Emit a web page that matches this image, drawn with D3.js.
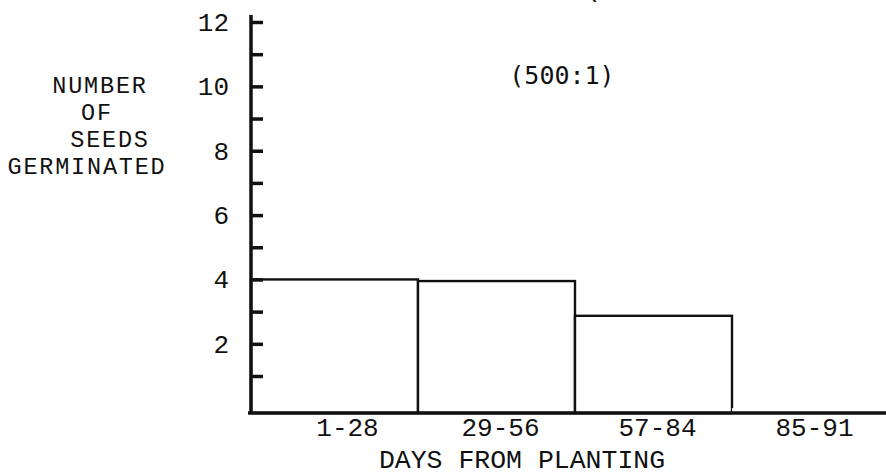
<!DOCTYPE html>
<html>
<head>
<meta charset="utf-8">
<script src="https://cdn.jsdelivr.net/npm/d3@7"></script>
<style>
  html, body { margin: 0; padding: 0; background: #fff; }
  svg { display: block; }
  text { font-family: "Liberation Mono", "DejaVu Sans Mono", monospace; fill: #111; }
</style>
</head>
<body>
<svg id="chart" width="886" height="476"></svg>
<script>
// ---- data ----
const categories = ["1-28", "29-56", "57-84", "85-91"];
const seedCounts = [4, 3.95, 2.87, 0];
const yTickValues = [1, 2, 3, 4, 5, 6, 7, 8, 9, 10, 11, 12];
const yTitleLines = ["NUMBER", "OF", "SEEDS", "GERMINATED"];
const xTitle = "DAYS FROM PLANTING";
const ratioLabel = "(500:1)";

// ---- layout ----
const svg = d3.select("#chart");
const axisX = 251;
const plotTop = 22, plotBottom = 413;

const y = d3.scaleLinear().domain([-0.15, 12]).range([plotBottom, plotTop]);
const x = d3.scaleBand().domain(categories).range([261, 889]).padding(0);

// bars
svg.append("g").selectAll("rect")
  .data(categories.map((c, i) => ({ c, v: seedCounts[i], i })))
  .join("rect")
  .attr("x", d => d.i === 0 ? axisX : x(d.c))
  .attr("width", d => d.i === 0 ? x(d.c) + x.bandwidth() - axisX : x.bandwidth())
  .attr("y", d => y(d.v))
  .attr("height", d => plotBottom - y(d.v))
  .attr("fill", "#fff")
  .attr("stroke", d => d.v > 0 ? "#111" : "none")
  .attr("stroke-width", 2.4);

// y axis (ticks point inward)
const yAxis = d3.axisLeft(y)
  .tickValues(yTickValues)
  .tickSize(-12)
  .tickSizeOuter(0)
  .tickPadding(22)
  .tickFormat(d => d % 2 === 0 ? d : "");
const gy = svg.append("g").attr("transform", `translate(${axisX},0)`).call(yAxis);
gy.select(".domain").remove();
gy.selectAll(".tick line").attr("stroke", "#111").attr("stroke-width", 3.5);
gy.selectAll(".tick text")
  .style("font-family", '"Liberation Mono", monospace')
  .style("font-size", "26px")
  .attr("fill", "#111");
svg.append("line")
  .attr("x1", axisX).attr("x2", axisX)
  .attr("y1", y(12) - 7).attr("y2", plotBottom + 1)
  .attr("stroke", "#111").attr("stroke-width", 3.5);

// x axis baseline
svg.append("line")
  .attr("x1", axisX - 3).attr("x2", 886)
  .attr("y1", plotBottom).attr("y2", plotBottom)
  .attr("stroke", "#111").attr("stroke-width", 3.5);

// x labels
svg.append("g").selectAll("text")
  .data(categories)
  .join("text")
  .attr("x", (d, i) => (i === 0 ? (axisX + x(d) + x.bandwidth()) / 2 + 13 : x(d) + x.bandwidth() / 2 + 4))
  .attr("y", 436)
  .attr("text-anchor", "middle")
  .style("font-size", "26px")
  .text(d => d);

// x title
svg.append("text")
  .attr("x", 522).attr("y", 468)
  .attr("text-anchor", "middle")
  .style("font-size", "26.5px")
  .text(xTitle);

// y title (stacked lines)
const yTitlePos = [[100, 93], [97, 120], [110, 147], [87, 174]];
svg.append("g").selectAll("text")
  .data(yTitleLines)
  .join("text")
  .attr("x", (d, i) => yTitlePos[i][0])
  .attr("y", (d, i) => yTitlePos[i][1])
  .attr("text-anchor", "middle")
  .style("font-size", "23.5px")
  .style("letter-spacing", "1.8px")
  .text(d => d);

// ratio annotation
svg.append("text")
  .attr("x", 562).attr("y", 84)
  .attr("text-anchor", "middle")
  .style("font-family", '"DejaVu Sans Mono", monospace')
  .style("font-size", "25px")
  .text(ratioLabel);

// clipped fragment of a title at very top
svg.append("text")
  .attr("x", 593).attr("y", -3)
  .attr("text-anchor", "middle")
  .style("font-size", "26px")
  .text("(");
</script>
</body>
</html>
